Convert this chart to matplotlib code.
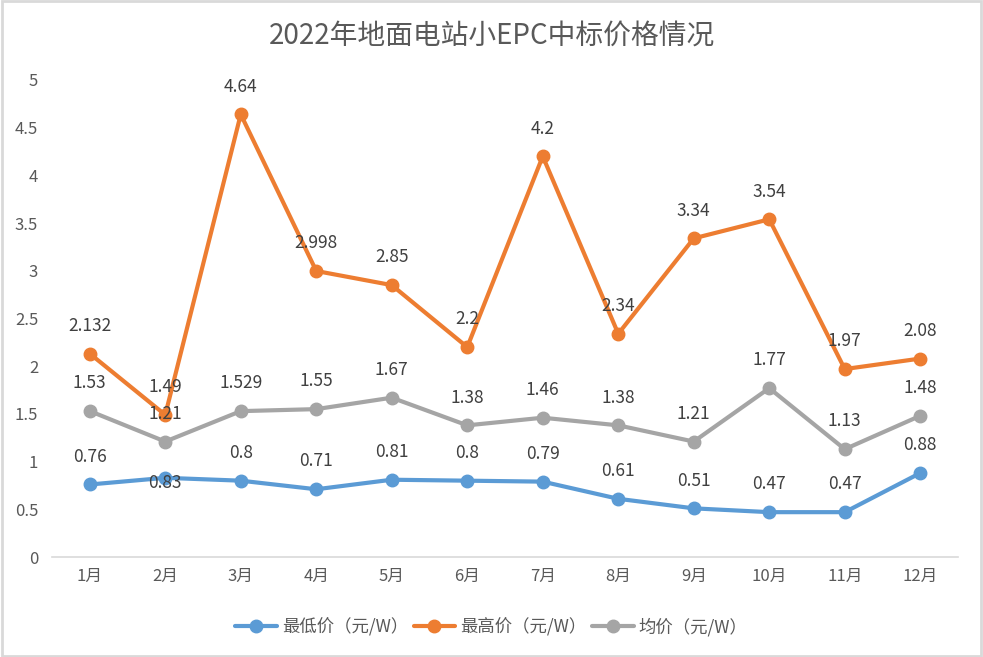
import matplotlib.pyplot as plt
from matplotlib.patches import Rectangle

plt.rcParams['font.family'] = ['Noto Sans CJK SC', 'DejaVu Sans']

months = ['1月', '2月', '3月', '4月', '5月', '6月', '7月', '8月', '9月', '10月', '11月', '12月']
min_price = [0.76, 0.83, 0.8, 0.71, 0.81, 0.8, 0.79, 0.61, 0.51, 0.47, 0.47, 0.88]
max_price = [2.132, 1.49, 4.64, 2.998, 2.85, 2.2, 4.2, 2.34, 3.34, 3.54, 1.97, 2.08]
avg_price = [1.53, 1.21, 1.529, 1.55, 1.67, 1.38, 1.46, 1.38, 1.21, 1.77, 1.13, 1.48]
max_labels = ['2.132', '1.49', '4.64', '2.998', '2.85', '2.2', '4.2', '2.34', '3.34', '3.54', '1.97', '2.08']
min_labels = ['0.76', '0.83', '0.8', '0.71', '0.81', '0.8', '0.79', '0.61', '0.51', '0.47', '0.47', '0.88']
avg_labels = ['1.53', '1.21', '1.529', '1.55', '1.67', '1.38', '1.46', '1.38', '1.21', '1.77', '1.13', '1.48']

fig = plt.figure(figsize=(9.83, 6.57), dpi=100)
ax = fig.add_axes([52/983, 100/657, 906/983, 477/657])
x = list(range(len(months)))

series = [
    (min_price, min_labels, '#5B9BD5', '最低价（元/W）'),
    (max_price, max_labels, '#ED7D31', '最高价（元/W）'),
    (avg_price, avg_labels, '#A5A5A5', '均价（元/W）'),
]
for vals, labs, col, name in series:
    ax.plot(x, vals, color=col, lw=3, marker='o', ms=9, label=name, solid_capstyle='round')
    for i, (v, t) in enumerate(zip(vals, labs)):
        dy = 20
        if name.startswith('最低') and i == 1:
            dy = -4  # label sits on the point in the original
        ax.annotate(t, (i, v), xytext=(0, dy), textcoords='offset points',
                    ha='center', va='center', fontsize=12.5, color='#404040')

ax.set_xlim(-0.5, 11.5)
ax.set_ylim(0, 5)
ax.set_yticks([0, 0.5, 1, 1.5, 2, 2.5, 3, 3.5, 4, 4.5, 5])
ax.set_yticklabels(['0', '0.5', '1', '1.5', '2', '2.5', '3', '3.5', '4', '4.5', '5'])
ax.set_xticks(x)
ax.set_xticklabels(months)
ax.tick_params(length=0, labelsize=12, colors='#595959')
ax.tick_params(axis='y', pad=10)
ax.tick_params(axis='x', pad=8)
for s in ['top', 'right', 'left']:
    ax.spines[s].set_visible(False)
ax.spines['bottom'].set_color('#D9D9D9')
ax.spines['bottom'].set_linewidth(1.2)

fig.text(0.5, 1 - 36/657, '2022年地面电站小EPC中标价格情况', ha='center', va='center',
         fontsize=20, color='#595959')
leg = fig.legend(loc='center', bbox_to_anchor=(0.5, 1 - 627/657), ncol=3, frameon=False,
                 fontsize=12.5, handlelength=2.4, columnspacing=0.3, handletextpad=0.3)
for t in leg.get_texts():
    t.set_color('#595959')

fig.patches.append(Rectangle((0.002, 0.002), 0.996, 0.996, transform=fig.transFigure,
                             fill=False, ec='#D9D9D9', lw=2))
fig.savefig('out.png', dpi=100)
